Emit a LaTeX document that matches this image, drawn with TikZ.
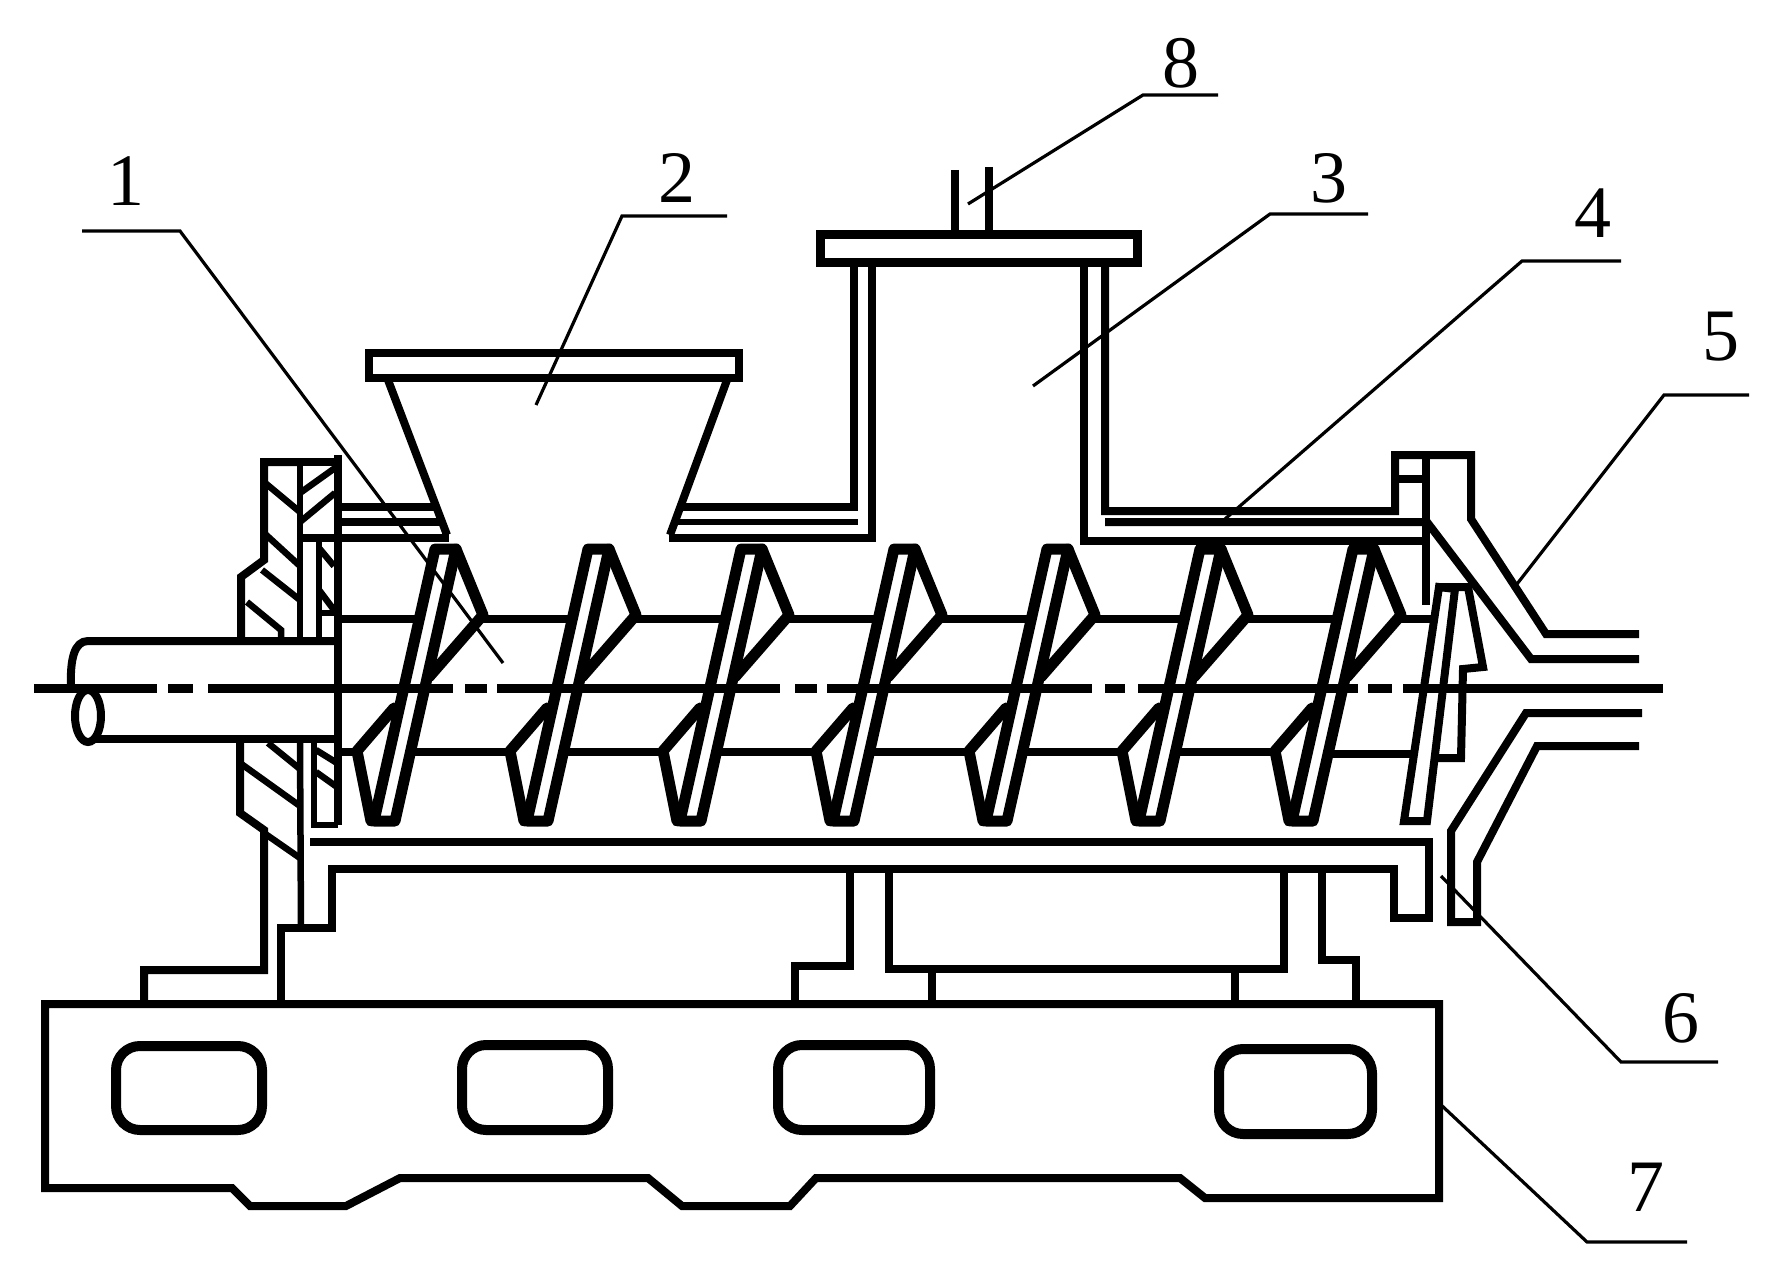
\documentclass[tikz,border=0pt]{standalone}
\usepackage{fontspec}
\setmainfont{Liberation Serif}
\tikzset{
  x=1pt,y=-1pt,
  heavy line/.style={line width=11pt,line join=round,line cap=round,black},
  part line/.style={line width=8pt,line join=miter,black},
  plate line/.style={line width=9pt,line join=miter,black},
  fine line/.style={line width=6.5pt,line join=miter,black},
  leader line/.style={line width=3.2pt,line join=miter,black},
  axis line/.style={line width=9pt,black},
  callout/.style={font=\fontsize{74}{74}\selectfont,inner sep=0pt,text=black},
  window/.style={line width=10pt,rounded corners=24pt,black}
}
\begin{document}
\begin{tikzpicture}
\useasboundingbox (0,0) rectangle (1780,1273);
% shaft
\draw[part line,line join=round] (338,641) -- (88,641) .. controls (74,641) and (70,660) .. (71,687);
\draw[part line] (96,739) -- (338,739);
\draw[part line] (88,716) ellipse (13pt and 26pt);
% flange outline
\draw[part line] (300,462) -- (264,462) -- (264,560) -- (241,577) -- (241,637);
\draw[part line] (240,735) -- (240,813) -- (264,830) -- (264,970) -- (144,970) -- (144,1004);
\draw[part line] (264,462) -- (337,462);
\draw[fine line] (300,462) -- (300,638);
\draw[fine line] (300,743) -- (301,928);
\draw[line width=8pt,black] (338,455) -- (338,825);
\draw[fine line] (319,542) -- (319,638);
\draw[fine line] (314,743) -- (314,825) -- (338,825);
% hatching
\foreach \ax/\ay/\bx/\by in {264/482/300/512,264/533/300/566,262/570/300/600,300/493/335/468,300/522/335/493,
    268/743/300/769,240/763/300/806,264/833/300/858,319/548/334/566,319/590/334/610,316/750/337/763,316/772/337/787}
  \draw[fine line] (\ax,\ay) -- (\bx,\by);
\draw[fine line] (247,602) -- (281,630) -- (281,637);
\draw[fine line] (319,613) -- (336,613);
% barrel top wall and hopper joint
\draw[part line] (340,507) -- (438,507);
\draw[part line] (340,522) -- (442,522);
\draw[part line] (302,538) -- (449,538);
\draw[part line] (679,507) -- (854,507) -- (854,263);
\draw[fine line] (676,522) -- (858,522);
\draw[part line] (669,538) -- (872,538) -- (872,263);
\draw[part line] (1084,263) -- (1084,541) -- (1426,541);
\draw[part line] (1105,263) -- (1105,511) -- (1395,511) -- (1395,455) -- (1471,455) -- (1471,519) -- (1546,634) -- (1639,634);
\draw[part line] (1105,522) -- (1427,522) -- (1531,659) -- (1639,659);
\draw[part line] (1426,455) -- (1426,605);
\draw[part line] (1395,479) -- (1426,479);
% hopper
\draw[part line] (369,353) rectangle (739,378);
\draw[part line] (388,380) -- (447,535);
\draw[part line] (727,380) -- (670,535);
% gas chamber
\draw[plate line] (820,235) rectangle (1137,263);
\draw[part line] (955,170) -- (955,232);
\draw[part line] (989,167) -- (989,232);
% screw flights
\foreach \k in {1,...,7}{
  \pgfmathsetmacro{\dx}{(\k-4)*153}
  \begin{scope}[xshift=\dx pt]
    \draw[heavy line] (894,549) -- (833,821) -- (854,821) -- (915,549) -- cycle;
    \draw[heavy line] (915,549) -- (942,615) -- (888,677);
    \draw[heavy line] (853,708) -- (816,751) -- (830,821);
  \end{scope}
}
\foreach \k in {1,...,6}{
  \pgfmathsetmacro{\dx}{(\k-4)*153}
  \begin{scope}[xshift=\dx pt]
    \draw[part line] (942,619) -- (1031,619);
    \draw[part line] (866,752) -- (969,752);
  \end{scope}
}
\draw[part line] (341,619) -- (417,619);
\draw[part line] (341,752) -- (358,752);
\draw[part line] (1399,619) -- (1431,619);
\draw[part line] (1325,754) -- (1412,754);
% last thin flight
\draw[part line] (1439,587) -- (1404,821) -- (1427,821) -- (1455,589) -- cycle;
\draw[part line] (1439,587) -- (1468,587) -- (1483,667) -- (1463,669) -- (1461,758) -- (1436,758);
% axis
\foreach \a/\b in {34/157,168/193,208/453,465/487,497/780,795/817,827/1092,1105/1125,1138/1358,1368/1392,1403/1663}
  \draw[axis line] (\a,688) -- (\b,688);
% barrel bottom wall
\draw[part line] (310,842) -- (1429,842) -- (1429,918) -- (1394,918) -- (1394,869) -- (332,869) -- (332,928) -- (281,928) -- (281,1004);
% outlet lower wall
\draw[part line] (1642,713) -- (1526,713) -- (1451,831) -- (1451,922) -- (1477,922) -- (1477,862) -- (1537,746) -- (1639,746);
% supports
\draw[part line] (850,869) -- (850,966) -- (795,966) -- (795,1004);
\draw[part line] (889,869) -- (889,969) -- (1284,969) -- (1284,869);
\draw[part line] (932,969) -- (932,1004);
\draw[part line] (1235,969) -- (1235,1004);
\draw[part line] (1322,869) -- (1322,960) -- (1356,960) -- (1356,1002);
% base
\draw[part line] (45,1004) -- (1439,1004) -- (1439,1198) -- (1205,1198) -- (1180,1178) -- (816,1178) -- (790,1206) -- (682,1206) -- (648,1178) -- (400,1178) -- (346,1206) -- (250,1206) -- (232,1188) -- (45,1188) -- cycle;
\draw[window] (116,1046) rectangle (262,1130);
\draw[window] (462,1045) rectangle (608,1130);
\draw[window] (778,1045) rectangle (930,1130);
\draw[window] (1219,1049) rectangle (1372,1134);
% labels
\node[callout] (n1) at (126,181) {1};
\node[callout] (n2) at (677,178) {2};
\node[callout] (n3) at (1329,178) {3};
\node[callout] (n4) at (1593,213) {4};
\node[callout] (n5) at (1721,337) {5};
\node[callout] (n6) at (1681,1018) {6};
\node[callout] (n7) at (1646,1187) {7};
\node[callout] (n8) at (1181,63) {8};
% leaders
\coordinate (e1) at (503,663);
\coordinate (e2) at (536,405);
\coordinate (e3) at (1033,386);
\coordinate (e4) at (1225,519);
\coordinate (e5) at (1517,584);
\coordinate (e6) at (1441,876);
\coordinate (e7) at (1439,1103);
\coordinate (e8) at (968,204);
\draw[leader line] (82,231) -- (180,231) -- (e1);
\draw[leader line] (727,216) -- (622,216) -- (e2);
\draw[leader line] (1368,214) -- (1270,214) -- (e3);
\draw[leader line] (1621,261) -- (1522,261) -- (e4);
\draw[leader line] (1749,395) -- (1664,395) -- (e5);
\draw[leader line] (1718,1062) -- (1621,1062) -- (e6);
\draw[leader line] (1687,1242) -- (1587,1242) -- (e7);
\draw[leader line] (1218,95) -- (1143,95) -- (e8);
\end{tikzpicture}
\end{document}
